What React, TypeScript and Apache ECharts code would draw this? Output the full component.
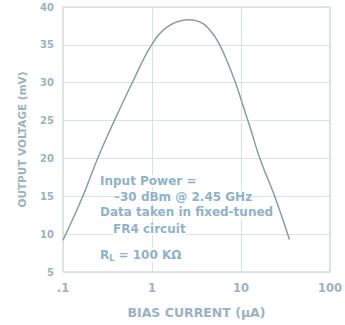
import React, { useEffect, useRef } from "react";
import * as echarts from "echarts";

const currentUA = [0.1, 0.167, 0.245, 0.378, 0.6, 0.99, 1.5, 2.58, 4.3, 7.17, 11.95, 16.3, 23.9, 35];
const outputMV = [9.2, 15, 20, 25, 30, 35, 37.4, 38.3, 37.2, 32.5, 25, 20, 15, 9.3];
const xTicks = [0.1, 1, 10, 100];
const xTickLabels = [".1", "1", "10", "100"];
const noteLines = [
  "Input Power =",
  "\u201330 dBm @ 2.45 GHz",
  "Data taken in fixed-tuned",
  "FR4 circuit",
];
const noteIndent = [0, 14, 0, 13];
const noteTop = [175, 191, 206, 223];

const LABEL = "#9cb2c0";
const NOTE = "#8fb2c8";
const FONT = "'DejaVu Sans', Arial, sans-serif";

export default function App() {
  const ref = useRef<HTMLDivElement>(null);
  useEffect(() => {
    if (!ref.current) return;
    const chart = echarts.init(ref.current, null, { renderer: "svg" });
    chart.setOption({
      animation: false,
      backgroundColor: "#ffffff",
      grid: { left: 63, right: 12, top: 7, bottom: 53, show: true, borderColor: "#c3cbc9", borderWidth: 1 },
      xAxis: {
        type: "log",
        logBase: 10,
        min: 0.1,
        max: 100,
        name: "BIAS CURRENT (\u00b5A)",
        nameLocation: "middle",
        nameGap: 34,
        nameTextStyle: { color: LABEL, fontFamily: FONT, fontWeight: "bold", fontSize: 12.5 },
        axisLine: { show: false },
        axisTick: { show: false },
        minorTick: { show: false },
        splitLine: { show: true, lineStyle: { color: "#dbe3df", width: 1 } },
        axisLabel: {
          color: LABEL,
          fontFamily: FONT,
          fontWeight: "bold",
          fontSize: 11.5,
          margin: 10,
          formatter: (v: number) => {
            const i = xTicks.findIndex((t) => Math.abs(Math.log10(t) - Math.log10(v)) < 0.01);
            return i >= 0 ? xTickLabels[i] : "";
          },
        },
      },
      yAxis: {
        type: "value",
        min: 5,
        max: 40,
        interval: 5,
        name: "OUTPUT VOLTAGE (mV)",
        nameLocation: "middle",
        nameGap: 36,
        nameRotate: 90,
        nameTextStyle: { color: LABEL, fontFamily: FONT, fontWeight: "bold", fontSize: 10.5 },
        axisLine: { show: false },
        axisTick: { show: false },
        splitLine: { show: true, lineStyle: { color: "#dbe3df", width: 1 } },
        axisLabel: { color: LABEL, fontFamily: FONT, fontWeight: "bold", fontSize: 10, margin: 9 },
      },
      series: [
        {
          type: "line",
          data: currentUA.map((x, i) => [x, outputMV[i]]),
          smooth: 0.4,
          showSymbol: false,
          lineStyle: { color: "#8d9c9c", width: 1.5 },
          z: 3,
        },
      ],
      graphic: [
        ...noteLines.map((t, i) => ({
          type: "text",
          left: 100 + noteIndent[i],
          top: noteTop[i],
          z: 10,
          style: {
            text: t,
            fill: NOTE,
            font: `bold 12px ${FONT}`,
            backgroundColor: "#ffffff",
          },
        })),
        {
          type: "text",
          left: 100,
          top: 248,
          z: 10,
          style: {
            text: "{r|R}{s|L}{r| = 100 K\u03a9}",
            fill: NOTE,
            backgroundColor: "#ffffff",
            rich: {
              r: { fill: NOTE, font: `bold 12px ${FONT}` },
              s: { fill: NOTE, font: `bold 8px ${FONT}`, padding: [6, 0, 0, 0] },
            },
          },
        },
      ],
    });
    return () => chart.dispose();
  }, []);
  return <div ref={ref} style={{ width: 345, height: 325, position: "absolute", left: 0, top: 0 }} />;
}
